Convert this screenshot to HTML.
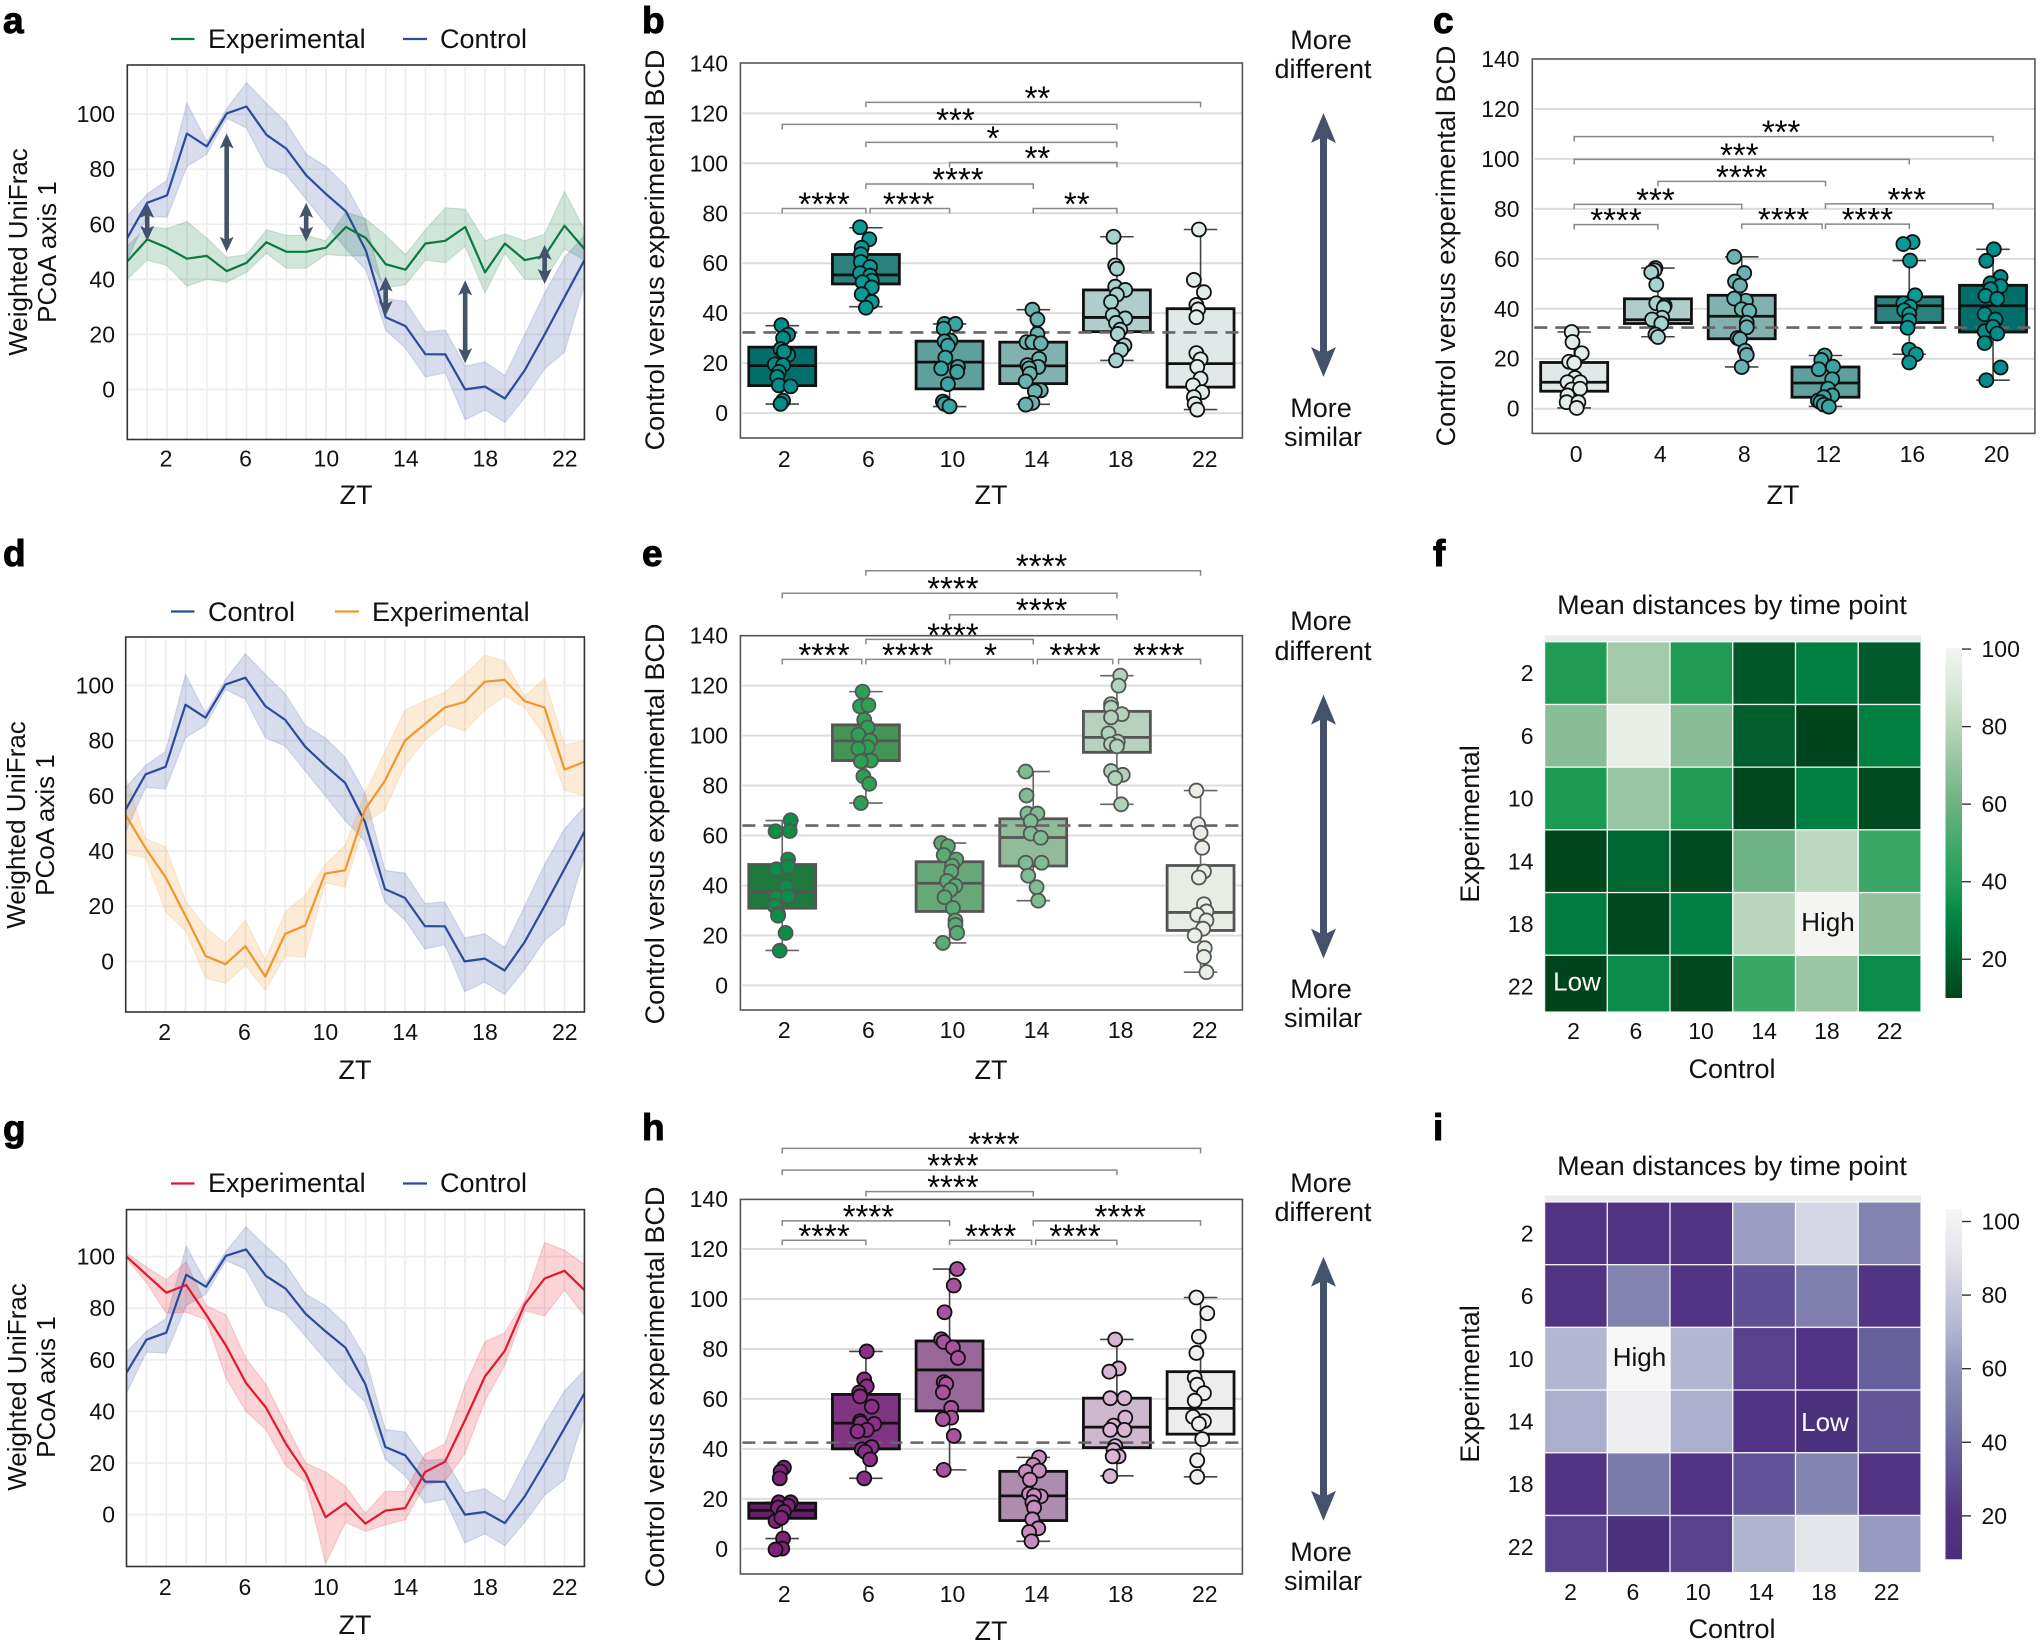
<!DOCTYPE html>
<html lang="en">
<head>
<meta charset="utf-8">
<title>Control versus experimental time-series panels</title>
<style>
html,body{margin:0;padding:0;background:#fff}
svg{display:block}
text{font-family:"Liberation Sans",sans-serif;fill:#111}
.lb{font-size:27px}
.wt{font-size:26px}
.pl{font-size:37px;font-weight:bold;fill:#000;stroke:#000;stroke-width:1}
</style>
</head>
<body>
<svg id="figure" xmlns="http://www.w3.org/2000/svg" width="2040" height="1645" viewBox="0 0 2040 1645">
<rect x="0" y="0" width="2040" height="1645" fill="#fff"/>

<g id="panel-a">
<text class="pl" x="3" y="33">a</text>
<line x1="171" x2="194.5" y1="39" y2="39" stroke="#0b7a3e" stroke-width="2.2"/>
<text class="lb" x="208" y="48">Experimental</text>
<line x1="403" x2="427" y1="39" y2="39" stroke="#2b4b9b" stroke-width="2.2"/>
<text class="lb" x="440" y="48">Control</text>
<text class="wt" text-anchor="middle" transform="translate(27 252) rotate(-90)">Weighted UniFrac</text>
<text class="wt" text-anchor="middle" transform="translate(56 252) rotate(-90)">PCoA axis 1</text>
<text class="lb" text-anchor="middle" x="356" y="504">ZT</text>
</g>

<g id="panel-b">
<text class="pl" x="642" y="33">b</text>
<text class="lb" text-anchor="middle" transform="translate(664 250) rotate(-90)">Control versus experimental BCD</text>
<text class="lb" text-anchor="middle" x="991" y="504">ZT</text>
<text class="lb" text-anchor="middle" x="1321" y="49">More</text>
<text class="lb" text-anchor="middle" x="1323" y="78">different</text>
<text class="lb" text-anchor="middle" x="1321" y="417">More</text>
<text class="lb" text-anchor="middle" x="1323" y="446">similar</text>
</g>

<g id="panel-c">
<text class="pl" x="1433" y="33">c</text>
<text class="lb" text-anchor="middle" transform="translate(1455 246) rotate(-90)">Control versus experimental BCD</text>
<text class="lb" text-anchor="middle" x="1783" y="504">ZT</text>
</g>

<g id="panel-d">
<text class="pl" x="3" y="566">d</text>
<line x1="171" x2="194.5" y1="611.5" y2="611.5" stroke="#2b4b9b" stroke-width="2.2"/>
<text class="lb" x="208" y="621">Control</text>
<line x1="335" x2="359" y1="611.5" y2="611.5" stroke="#f0962a" stroke-width="2.2"/>
<text class="lb" x="372" y="621">Experimental</text>
<text class="wt" text-anchor="middle" transform="translate(25 825) rotate(-90)">Weighted UniFrac</text>
<text class="wt" text-anchor="middle" transform="translate(54 825) rotate(-90)">PCoA axis 1</text>
<text class="lb" text-anchor="middle" x="355" y="1079">ZT</text>
</g>

<g id="panel-e">
<text class="pl" x="642" y="566">e</text>
<text class="lb" text-anchor="middle" transform="translate(664 824) rotate(-90)">Control versus experimental BCD</text>
<text class="lb" text-anchor="middle" x="991" y="1079">ZT</text>
<text class="lb" text-anchor="middle" x="1321" y="630">More</text>
<text class="lb" text-anchor="middle" x="1323" y="660">different</text>
<text class="lb" text-anchor="middle" x="1321" y="998">More</text>
<text class="lb" text-anchor="middle" x="1323" y="1027">similar</text>
</g>

<g id="panel-f">
<text class="pl" x="1433" y="566">f</text>
<text class="lb" text-anchor="middle" x="1732" y="614">Mean distances by time point</text>
<text class="lb" text-anchor="middle" transform="translate(1479 824) rotate(-90)">Experimental</text>
<text class="lb" text-anchor="middle" x="1732" y="1078">Control</text>
</g>

<g id="panel-g">
<text class="pl" x="3" y="1141">g</text>
<line x1="171" x2="194.5" y1="1183.5" y2="1183.5" stroke="#e3182d" stroke-width="2.2"/>
<text class="lb" x="208" y="1192">Experimental</text>
<line x1="403" x2="427" y1="1183.5" y2="1183.5" stroke="#2b4b9b" stroke-width="2.2"/>
<text class="lb" x="440" y="1192">Control</text>
<text class="wt" text-anchor="middle" transform="translate(26 1387) rotate(-90)">Weighted UniFrac</text>
<text class="wt" text-anchor="middle" transform="translate(55 1387) rotate(-90)">PCoA axis 1</text>
<text class="lb" text-anchor="middle" x="355" y="1634">ZT</text>
</g>

<g id="panel-h">
<text class="pl" x="642" y="1140">h</text>
<text class="lb" text-anchor="middle" transform="translate(664 1387) rotate(-90)">Control versus experimental BCD</text>
<text class="lb" text-anchor="middle" x="991" y="1640">ZT</text>
<text class="lb" text-anchor="middle" x="1321" y="1192">More</text>
<text class="lb" text-anchor="middle" x="1323" y="1221">different</text>
<text class="lb" text-anchor="middle" x="1321" y="1561">More</text>
<text class="lb" text-anchor="middle" x="1323" y="1590">similar</text>
</g>

<g id="panel-i">
<text class="pl" x="1433" y="1140">i</text>
<text class="lb" text-anchor="middle" x="1732" y="1175">Mean distances by time point</text>
<text class="lb" text-anchor="middle" transform="translate(1479 1384) rotate(-90)">Experimental</text>
<text class="lb" text-anchor="middle" x="1732" y="1638">Control</text>
</g>
</svg>

<script>
// ---------- line chart data (panels a, d, g) ----------
const hours = [0,1,2,3,4,5,6,7,8,9,10,11,12,13,14,15,16,17,18,19,20,21,22,23];
const lineXTickLabels = [2,6,10,14,18,22];
const lineYTickLabels = [0,20,40,60,80,100];

const controlMean  = [55,67.8,70.5,93,88.3,100.3,102.8,92.5,87.5,77.8,71,64.7,50.5,26.2,23,12.8,12.7,0,1,-3.3,7,20,33.5,47];
const controlUpper = [63,71,76,104,90,102,111.5,104,97,85.5,81,74,61,33,32,21,21.5,8.5,10,5,20,35,48,56];
const controlLower = [47,63,62.5,81,85.5,98.5,95,81,78,69,60,51,43.5,21.5,15,4.5,6,-11,-7.5,-12,-3,7.5,13.5,38];

const aExpMean  = [46.5,54.5,51.5,47.5,48.5,43,46,53.5,50,50,51.5,59,55,45.5,43.5,53,54,59,42.5,53,47,48.5,59.5,51];
const aExpUpper = [52,59,58.5,61,55,48,49,58,56,56,54,64.5,62,56,49,58,66,65.5,54,56.5,54,56.5,72,58];
const aExpLower = [40,47,45,37.5,40,39,42.5,49.5,44,44,49,48.5,48.5,37,38,47,46,52,35,49.5,40,40,51,47];

const dExpMean  = [53,41,30.5,16.5,2,-1,5.5,-5.5,10,13,31.8,33,55,65.5,80,86,92,94,101.3,102,94.3,92,69.5,72.3];
const dExpUpper = [67,44.5,41.5,22,12.5,6.5,15,0.5,18,24,35,42,61,76,91,94.5,97.5,104,111,109,96,102.5,78.5,80];
const dExpLower = [39,37.5,18,11,-6,-8,-1.5,-10.5,2,1.5,28.5,27,50,55,71,80,86,83.5,91,96,92,81.5,62,60];

const gExpMean  = [100,93,86,89,77.5,65.5,51,41.5,27.5,16,-1,4.5,-3.5,1.5,2.5,16.5,20.5,36.5,53.5,63.5,81.5,91.5,94.5,87];
const gExpUpper = [101.5,96,91,98,81,77.5,60.5,50.5,35,20,16.5,11,0.5,9,9,23.5,27.5,50,67,70.5,83,105.5,102.5,97];
const gExpLower = [99,90,78,78.5,75.5,53,40,33,19,12.5,-19,-3,-6.5,-4,-2,11.5,13,23.5,44,58,79,77,87,77];

const aArrowHours = [1,5,9,13,17,21];
const aArrowTop    = [67.8,93,67.8,41,39.6,52.5];
const aArrowBottom = [54,50,53.7,26.7,9.5,38.3];

// ---------- box plot data (panels b, c, e, h) ----------
const boxYTickLabels = [0,20,40,60,80,100,120,140];

const bCategories = [2,6,10,14,18,22];
const bQ1 = [11,51.7,9.7,11.8,32.6,10.4];
const bMedian = [19,55.3,20.4,18.9,38.3,19.8];
const bQ3 = [26.4,63.5,28.8,28.4,49.3,41.8];
const bWhiskerLow = [3.6,42.6,2.6,3.5,21.1,1.4];
const bWhiskerHigh = [35,74.2,35.7,41.4,70.6,73.5];
const bThreshold = 32.3;
const bValues = [
 [35.2,31.4,30,25.6,23.3,24.6,19.5,19.2,16.5,14.5,11.1,10.7,5,3.7],
 [74.4,69.6,66.2,63.6,60.5,58.5,56,55,53,52.4,50.3,47.6,44.5,42.2],
 [35.7,35.7,33.8,29,28.7,27,22.2,18.5,17.9,16.5,11.6,4.6,3.7,2.7],
 [41.4,37.5,31.7,28.4,28.4,27.9,21.7,19.2,18.5,17.9,15.8,12.7,9.1,8.7,4.1,3.4],
 [70.6,59.1,57.8,50.6,49.3,47.4,44.5,39.2,37.9,36.1,33.4,31.7,27.1,25.3,21.1],
 [73.5,53.3,48.4,43.3,41.5,38.4,24,21.5,18.5,13.8,11.1,8.4,6.4,3.7,1.4]
];
const bJitter = [
 [-.01,.07,.01,-.02,.07,.02,-.09,.01,-.04,-.06,-.04,.10,.01,-.02],
 [-.07,.04,-.05,-.06,-.06,.05,-.07,.05,.07,-.04,.07,-.05,.07,0],
 [-.06,.07,-.07,.01,-.06,-.02,-.05,.10,-.1,.09,-.02,-.08,-.06,0],
 [-.01,.05,.05,-.08,-.01,.09,.07,-.07,.06,-.05,-.04,-.09,.09,.02,-.01,-.09],
 [-.04,-.02,0,-.02,.1,0,-.07,-.05,.1,-.01,.04,.01,.09,.05,-.01],
 [-.02,-.08,.04,-.05,-.03,-.05,-.05,0,-.04,0,-.09,.02,-.08,-.07,-.04]
];
const bBracketFrom = [1,0,1,2,1,0,1.05,3];
const bBracketTo   = [5,4,4,4,3,1,2,4];
const bBracketLevel = [124.4,115.6,108.4,100.3,91.7,81.9,81.9,81.9];
const bBracketStars = ["**","***","*","**","****","****","****","**"];
const bBracketStarPos = [3.05,2.07,2.52,3.05,2.10,.5,1.51,3.52];

const cCategories = [0,4,8,12,16,20];
const cQ1 = [7,34.1,28,4.6,34.5,30.7];
const cMedian = [10.6,35.6,37,10.3,41.2,41.2];
const cQ3 = [18.5,44,45.4,16.7,44.8,49.4];
const cWhiskerLow = [.3,28.8,16.7,.9,21.8,11.4];
const cWhiskerHigh = [30.7,56.3,60.8,21.3,59.3,63.8];
const cThreshold = 32.5;
const cValues = [
 [30.7,26.7,22.2,18.8,18.3,12.3,10.6,10.6,7.7,8,5.3,2.6,2.6,.3],
 [56.3,55.4,54.6,49.7,42.2,41.2,40.5,36.4,35.7,34.1,29.7,28.7],
 [60.8,54.3,50.9,49.3,43.2,44.1,39.8,39.1,34.4,32.6,28.3,27.9,23.2,21.5,16.7],
 [21.3,19.5,16.8,15.8,11.8,8,5.3,3.2,4.6,2.6,1.6,.8],
 [66.7,65.9,59.3,45.4,42.2,40.8,39.4,37.8,35.3,32.4,23.6,21.8,18.5],
 [63.8,59.2,52.7,50.2,49.1,47.9,45.2,44,37.8,35.7,31,32.8,30.1,26.3,16.5,11.4]
];
const cJitter = [
 [-.03,-.02,.09,-.06,0,.01,-.08,.07,-.03,.07,-.08,-.09,.05,.03],
 [-.03,-.04,-.08,-.02,-.02,.08,.07,.05,-.07,.04,-.03,0],
 [-.09,.03,-.08,-.02,.05,-.09,0,.09,.06,.06,-.05,-.02,.04,.06,0],
 [-.01,-.05,.09,-.08,.08,.03,.08,-.09,-.02,-.06,-.02,.04],
 [.04,-.07,.01,.07,-.07,.01,-.06,0,0,-.02,0,.08,0],
 [.01,-.08,.09,-.03,.09,-.03,-.09,.05,-.1,.03,-.1,0,.05,-.1,.09,-.08]
];
const cBracketFrom = [0,0,1,0,0,2,3,3];
const cBracketTo   = [5,4,3,2,1,2.96,4,5];
const cBracketLevel = [108.9,99.8,91,81.8,73.7,73.9,73.9,82];
const cBracketStars = ["***","***","****","***","****","****","****","***"];
const cBracketStarPos = [2.47,1.97,2,.97,.5,2.5,3.5,3.97];

const eCategories = [2,6,10,14,18,22];
const eQ1 = [30.9,90,29.6,47.8,93.3,22];
const eMedian = [37.5,97.9,40.9,59.2,99.3,29.2];
const eQ3 = [48.4,104.3,49.5,66.7,109.7,48];
const eWhiskerLow = [14,73,17,33.9,72.5,5.3];
const eWhiskerHigh = [66,117.6,57,85.6,124,78];
const eThreshold = 64;
const eValues = [
 [66.1,61.7,61.8,50.4,46.5,47.5,39.6,35.3,35.6,31.8,28.5,27.9,21,13.9],
 [117.6,111.7,112.2,106.3,103.3,100.4,98,95.4,94.8,90,89.7,83.7,80.7,73],
 [57,55.7,52.2,50.4,47.9,45.6,41.8,39.9,38.2,35.3,31,26,24.2,21,17],
 [85.6,76,68.8,68.8,65.7,60.8,59.1,49.1,49.1,43.9,39.3,33.9],
 [124,120,112.6,111.2,108.6,107.3,100.9,97.6,96.6,95.7,85.8,84.3,83,72.5],
 [78,64.5,61.1,55.1,45.6,43.2,32.5,29.6,28.2,26,22.7,20,14.9,11.4,5.3]
];
const eJitter = [
 [.10,-.08,.09,.07,-.07,.07,.05,-.07,.07,-.09,-.05,-.05,.04,-.03],
 [-.04,-.07,.03,-.02,.02,-.09,.05,.02,-.09,.06,-.06,-.03,.04,-.06],
 [-.1,-.02,-.07,.08,.03,.02,-.03,.07,.01,-.06,.04,.07,.07,.09,-.08],
 [-.09,-.08,-.07,.05,-.03,-.03,.09,-.09,.1,-.06,.04,.06],
 [.04,.02,-.07,-.07,.06,-.07,-.1,.01,-.07,0,-.07,.07,-.02,.05],
 [-.05,-.03,0,.02,.04,-.02,.04,.07,-.04,.07,.03,-.07,.05,.04,.07]
];
const eBracketFrom = [1,0,2,1,0,1,2,3.05,4.02];
const eBracketTo   = [5,4,4,3,.95,1.95,3,3.95,5];
const eBracketLevel = [166,157,148.4,138.5,130.5,130.5,130.5,130.5,130.5];
const eBracketStars = ["****","****","****","****","****","****","*","****","****"];
const eBracketStarPos = [3.10,2.04,3.10,2.04,.5,1.5,2.49,3.5,4.5];

const hCategories = [2,6,10,14,18,22];
const hQ1 = [12.2,40,55.2,11.3,40.5,45.9];
const hMedian = [15.4,50.3,71.6,21.2,48.7,56.2];
const hQ3 = [18.3,61.8,83.2,31,60.3,70.9];
const hWhiskerLow = [4.1,28.2,31.6,3,29.2,28.8];
const hWhiskerHigh = [18.6,79,112,36.6,83.8,100.6];
const hThreshold = 42.5;
const hValues = [
 [32.5,30.9,28.2,18.6,18.6,17.2,16.5,14.8,11.1,12.4,4.1,.1,-.3],
 [79,67.8,65,62.6,61,56.9,51.1,50,50.3,47.6,47,40.7,39.8,38.8,35.8,28.2],
 [112,105.4,94.7,83.9,82.8,80.6,76.4,66.7,66,62.6,56.4,52.5,51.9,45.2,31.6],
 [36.6,33.6,30.9,31.3,27.7,22,21,21.3,18.6,16.5,11.8,8.2,6.7,3],
 [83.8,72.2,70.9,60.3,60.3,52.5,49.3,47.6,47.6,41.1,39.5,37,37,29.1],
 [100.6,94.3,84.9,78.4,68.5,65.7,62.3,59.3,52.8,51.1,50,43.9,35.4,28.8]
];
const hJitter = [
 [.02,-.02,-.03,.1,-.04,.07,-.05,.02,-.08,-.01,.01,0,-.08],
 [.01,-.02,.01,-.08,-.07,.07,-.07,.1,-.06,.01,-.1,.07,-.05,-.01,.05,-.02],
 [.09,.05,-.06,-.1,-.07,.04,.1,-.07,-.04,-.08,.02,.02,-.08,.05,-.07],
 [.07,0,-.09,.07,-.04,-.05,.09,.01,-.01,.01,-.01,.06,-.05,-.02],
 [-.02,.02,-.09,-.08,.09,.1,-.04,-.08,.09,-.02,-.04,.02,-.05,-.08],
 [-.05,.08,-.02,-.05,-.07,-.04,.04,-.07,-.09,.04,-.02,.02,-.04,-.04]
];
const hBracketFrom = [0,0,1,0,0,2,3.03,3];
const hBracketTo   = [5,4,3,2,1,2.98,4,5];
const hBracketLevel = [160.3,151.6,143,131.3,123.5,123.5,123.5,131.3];
const hBracketStars = ["****","****","****","****","****","****","****","****"];
const hBracketStarPos = [2.53,2.04,2.04,1.03,.5,2.49,3.5,4.04];

// ---------- heatmap data (panels f, i) ----------
const heatLabels = [2,6,10,14,18,22];
const colorbarTickLabels = [20,40,60,80,100];
const fValues = [
 [39,74,39,16,29,17],
 [67,95,67,18,10,29],
 [38,72,39,11,29,12],
 [10.5,21,12,60,81,48],
 [28,11,29,80,100,70],
 [10,33,11,48,72,33]
];
const iValues = [
 [19,19,19,63,85,52],
 [20,52,20,31,50,20],
 [71,103,71,25,18,37],
 [68,97,68,20,10,33],
 [20,48,20,32,52,20],
 [25,10,25,70,92,62]
];

// ---------- rendering helpers ----------
const NS = 'http://www.w3.org/2000/svg';
function mk(tag, attrs, parent) {
  const el = document.createElementNS(NS, tag);
  for (const k in attrs) el.setAttribute(k, attrs[k]);
  parent.appendChild(el);
  return el;
}
function linear(d0, d1, r0, r1) {
  return function (v) { return r0 + (v - d0) * (r1 - r0) / (d1 - d0); };
}
function doubleArrow(parent, name, x, y1, y2, headW, headL, shaftW, color) {
  const p = 'M' + x + ' ' + y1 + 'L' + (x + headW / 2) + ' ' + (y1 + headL) + 'L' + (x + shaftW / 2) + ' ' + (y1 + headL * 0.85) +
    'L' + (x + shaftW / 2) + ' ' + (y2 - headL * 0.85) + 'L' + (x + headW / 2) + ' ' + (y2 - headL) + 'L' + x + ' ' + y2 +
    'L' + (x - headW / 2) + ' ' + (y2 - headL) + 'L' + (x - shaftW / 2) + ' ' + (y2 - headL * 0.85) +
    'L' + (x - shaftW / 2) + ' ' + (y1 + headL * 0.85) + 'L' + (x - headW / 2) + ' ' + (y1 + headL) + 'Z';
  const el = mk('path', { d: p, fill: color }, parent);
  
  
}
function seriesPath(xs, ys, sx, sy) {
  return xs.map(function (x, i) { return (i ? 'L' : 'M') + sx(x).toFixed(1) + ' ' + sy(ys[i]).toFixed(1); }).join('');
}
function bandPath(xs, up, lo, sx, sy) {
  let d = seriesPath(xs, up, sx, sy);
  for (let i = xs.length - 1; i >= 0; i--) d += 'L' + sx(xs[i]).toFixed(1) + ' ' + sy(lo[i]).toFixed(1);
  return d + 'Z';
}

// ---------- line charts ----------
function drawLineChart(panelId, box, series, clipId) {
  const g = document.getElementById(panelId);
  const sx = linear(0, 23, box.left, box.right);
  const sy = function (v) { return box.zero - v * box.k; };

  const cp = mk('clipPath', { id: clipId }, g);
  mk('rect', { x: box.left, y: box.top, width: box.right - box.left, height: box.bottom - box.top }, cp);

  hours.forEach(function (h) {
    if (h === 0 || h === 23) return;
    const el = mk('line', { x1: sx(h), x2: sx(h), y1: box.top + 2, y2: box.bottom, stroke: '#ececee', 'stroke-width': 1.6 }, g);
    
    
  });
  lineYTickLabels.forEach(function (v) {
    const el = mk('line', { x1: box.left, x2: box.right, y1: sy(v), y2: sy(v), stroke: '#eeeeee', 'stroke-width': 1.8 }, g);
    
    
    const t = mk('text', { x: box.tickRight, y: sy(v) + 8, 'text-anchor': 'end', 'font-size': 23 }, g);
    t.textContent = v;
    
    
  });
  lineXTickLabels.forEach(function (h) {
    const t = mk('text', { x: sx(h) - 1 + (h > 6 ? 1.3 : 0), y: box.tickBase, 'text-anchor': 'middle', 'font-size': 23 }, g);
    t.textContent = h;
    
    
  });
  const clip = mk('g', { 'clip-path': 'url(#' + clipId + ')' }, g);
  
  
  series.forEach(function (s) {
    const b = mk('path', { d: bandPath(hours, s.upper, s.lower, sx, sy), fill: s.color, 'fill-opacity': 0.19, stroke: s.color, 'stroke-opacity': 0.16, 'stroke-width': 1.2 }, clip);
    
    
  });
  series.forEach(function (s) {
    const l = mk('path', { d: seriesPath(hours, s.mean, sx, sy), fill: 'none', stroke: s.color, 'stroke-width': 2.2, 'stroke-linejoin': 'round' }, clip);
    
    
  });
  const f = mk('rect', { x: box.left, y: box.top, width: box.right - box.left, height: box.bottom - box.top, fill: 'none', stroke: '#333', 'stroke-width': 1.6 }, g);
  
  
  return { g: g, sx: sx, sy: sy };
}

const ctlColor = '#2b4b9b';
const panelA = drawLineChart('panel-a',
  { left: 127.3, right: 584.4, top: 65, bottom: 439.5, zero: 389.4, k: 2.752, tickRight: 115, tickBase: 466.5 },
  [{ name: 'control', mean: controlMean, upper: controlUpper, lower: controlLower, color: ctlColor },
   { name: 'experimental', mean: aExpMean, upper: aExpUpper, lower: aExpLower, color: '#0b7a3e' }], 'clip-a');
aArrowHours.forEach(function (h, i) {
  doubleArrow(panelA.g, 'difference-arrow-zt' + h, panelA.sx(h), panelA.sy(aArrowTop[i]), panelA.sy(aArrowBottom[i]), 14, 15, 4.6, '#44536b');
});
drawLineChart('panel-d',
  { left: 125.7, right: 584.4, top: 637, bottom: 1012, zero: 961.4, k: 2.76, tickRight: 114, tickBase: 1040 },
  [{ name: 'control', mean: controlMean, upper: controlUpper, lower: controlLower, color: ctlColor },
   { name: 'experimental', mean: dExpMean, upper: dExpUpper, lower: dExpLower, color: '#f0962a' }], 'clip-d');
drawLineChart('panel-g',
  { left: 126.5, right: 584.4, top: 1209.6, bottom: 1566.5, zero: 1514.6, k: 2.58, tickRight: 115, tickBase: 1595 },
  [{ name: 'control', mean: controlMean, upper: controlUpper, lower: controlLower, color: ctlColor },
   { name: 'experimental', mean: gExpMean, upper: gExpUpper, lower: gExpLower, color: '#e3182d' }], 'clip-g');

// ---------- box plots ----------
function drawBoxChart(panelId, box, d, style) {
  const g = document.getElementById(panelId);
  const step = (box.right - box.left) / 6;
  const cx = function (i) { return box.left + step * (i + 0.5); };
  const sy = function (v) { return box.zero - v * 2.498; };
  const bw = step * 0.8;

  boxYTickLabels.forEach(function (v) {
    if (v !== 140) {
      const el = mk('line', { x1: box.left + 2, x2: box.right, y1: sy(v), y2: sy(v), stroke: '#dcdcdc', 'stroke-width': 2 }, g);
      
      
    }
    const t = mk('text', { x: box.tickRight, y: sy(v) + 8, 'text-anchor': 'end', 'font-size': 23 }, g);
    t.textContent = v;
    
    
  });
  d.categories.forEach(function (c, i) {
    const x = cx(i);
    const t = mk('text', { x: x + 2 + box.labelShift * i, y: box.tickBase, 'text-anchor': 'middle', 'font-size': 23 }, g);
    t.textContent = c;
    
    

    const w = mk('line', { x1: x, x2: x, y1: sy(d.high[i]), y2: sy(d.low[i]), stroke: style.whisker, 'stroke-width': 1.6 }, g);
    
    
    [d.low[i], d.high[i]].forEach(function (v) {
      const cap = mk('line', { x1: x - bw / 4, x2: x + bw / 4, y1: sy(v), y2: sy(v), stroke: style.whisker, 'stroke-width': 1.6 }, g);
      
      
    });
    const r = mk('rect', { x: x - bw / 2, y: sy(d.q3[i]), width: bw, height: sy(d.q1[i]) - sy(d.q3[i]), fill: style.fills[i], stroke: style.edge, 'stroke-width': 2.8 }, g);
    
    
    const m = mk('line', { x1: x - bw / 2, x2: x + bw / 2, y1: sy(d.median[i]), y2: sy(d.median[i]), stroke: style.edge, 'stroke-width': 2.8 }, g);
    
    
  });
  const dash = mk('line', { x1: box.left + 2, x2: box.right, y1: sy(d.threshold), y2: sy(d.threshold), stroke: '#666', 'stroke-width': 2.6, 'stroke-dasharray': '13 8' }, g);
  
  
  d.categories.forEach(function (c, i) {
    d.values[i].forEach(function (v, j) {
      const p = mk('circle', { cx: cx(i) + d.jitter[i][j] * step, cy: sy(v), r: 7, fill: style.dots[i], stroke: style.edge, 'stroke-width': 1.8 }, g);
      
      
    });
  });
  const f = mk('rect', { x: box.left, y: box.top, width: box.right - box.left, height: box.bottom - box.top, fill: 'none', stroke: '#555', 'stroke-width': 1.6 }, g);
  
  
  d.bracketFrom.forEach(function (a, i) {
    const y = sy(d.bracketLevel[i]);
    const pth = 'M' + cx(a) + ' ' + (y + 5) + 'V' + y + 'H' + cx(d.bracketTo[i]) + 'V' + (y + 5);
    const b = mk('path', { d: pth, fill: 'none', stroke: '#888', 'stroke-width': 1.5 }, g);
    
    
    const s = mk('text', { x: cx(d.bracketStarPos[i]), y: y - 11 + 18, 'text-anchor': 'middle', 'font-size': 33, style: 'fill:#000' }, g);
    s.textContent = d.bracketStars[i];
    
    
  });
  if (box.arrowTop) {
    doubleArrow(g, 'similarity-direction-arrow', 1323.5, box.arrowTop, box.arrowBottom, 25, 30, 7, '#44536b');
  }
}

drawBoxChart('panel-b',
  { left: 740.4, right: 1242.4, top: 63, bottom: 438, zero: 413.1, tickRight: 728, tickBase: 467, labelShift: .45, arrowTop: 113, arrowBottom: 377 },
  { categories: bCategories, q1: bQ1, median: bMedian, q3: bQ3, low: bWhiskerLow, high: bWhiskerHigh, threshold: bThreshold, values: bValues, jitter: bJitter,
    bracketFrom: bBracketFrom, bracketTo: bBracketTo, bracketLevel: bBracketLevel, bracketStars: bBracketStars, bracketStarPos: bBracketStarPos },
  { fills: ['#006f6c','#2a827f','#5fa09d','#82b2b0','#aecdcb','#e0e9e8'], dots: ['#008c88','#0a9a96','#3aa5a2','#6bb3b1','#a6d2d0','#e2ecea'], edge: '#111', whisker: '#444' });
drawBoxChart('panel-c',
  { left: 1532.3, right: 2034.9, top: 59, bottom: 433.4, zero: 408.7, tickRight: 1519.6, tickBase: 462, labelShift: .3 },
  { categories: cCategories, q1: cQ1, median: cMedian, q3: cQ3, low: cWhiskerLow, high: cWhiskerHigh, threshold: cThreshold, values: cValues, jitter: cJitter,
    bracketFrom: cBracketFrom, bracketTo: cBracketTo, bracketLevel: cBracketLevel, bracketStars: cBracketStars, bracketStarPos: cBracketStarPos },
  { fills: ['#e0e9e8','#aecdcb','#82b2b0','#5fa09d','#2a827f','#006f6c'], dots: ['#e2ecea','#a6d2d0','#6bb3b1','#3aa5a2','#0a9a96','#008c88'], edge: '#111', whisker: '#444' });
drawBoxChart('panel-e',
  { left: 740.4, right: 1242.4, top: 635.7, bottom: 1010, zero: 985.4, tickRight: 728, tickBase: 1038, labelShift: .45, arrowTop: 694.6, arrowBottom: 958.6 },
  { categories: eCategories, q1: eQ1, median: eMedian, q3: eQ3, low: eWhiskerLow, high: eWhiskerHigh, threshold: eThreshold, values: eValues, jitter: eJitter,
    bracketFrom: eBracketFrom, bracketTo: eBracketTo, bracketLevel: eBracketLevel, bracketStars: eBracketStars, bracketStarPos: eBracketStarPos },
  { fills: ['#1d7a3c','#459455','#67a877','#92bb99','#b6d1bd','#e7ece5'], dots: ['#0b8f48','#2ea055','#5aab75','#7ebd93','#b0d3bb','#e9efe7'], edge: '#555', whisker: '#666' });
drawBoxChart('panel-h',
  { left: 740.4, right: 1242.4, top: 1199.4, bottom: 1574, zero: 1548.8, tickRight: 728, tickBase: 1602, labelShift: .45, arrowTop: 1256.7, arrowBottom: 1520.8 },
  { categories: hCategories, q1: hQ1, median: hMedian, q3: hQ3, low: hWhiskerLow, high: hWhiskerHigh, threshold: hThreshold, values: hValues, jitter: hJitter,
    bracketFrom: hBracketFrom, bracketTo: hBracketTo, bracketLevel: hBracketLevel, bracketStars: hBracketStars, bracketStarPos: hBracketStarPos },
  { fills: ['#651e68','#7f3581','#986699','#ae8cb0','#ceb8cf','#ededed'], dots: ['#7c2378','#8c2f88','#a9539d','#c78cbe','#d9b5d3','#efefef'], edge: '#111', whisker: '#444' });

// ---------- heatmaps ----------
function hexToRgb(h) {
  return [parseInt(h.slice(1, 3), 16), parseInt(h.slice(3, 5), 16), parseInt(h.slice(5, 7), 16)];
}
function makeColormap(levels, colors) {
  return function (v) {
    if (v <= levels[0]) return colors[0];
    for (let i = 1; i < levels.length; i++) {
      if (v <= levels[i]) {
        const t = (v - levels[i - 1]) / (levels[i] - levels[i - 1]);
        const a = hexToRgb(colors[i - 1]), b = hexToRgb(colors[i]);
        return 'rgb(' + a.map(function (c, k) { return Math.round(c + (b[k] - c) * t); }).join(',') + ')';
      }
    }
    return colors[colors.length - 1];
  };
}
const greensMap = makeColormap([10,20,30,38,48,60,70,80,90,100],
  ['#00441b','#006330','#008242','#1c9a54','#3ba766','#6db283','#93c29d','#b9d6bc','#dbe8da','#f4f4f2']);
const purplesMap = makeColormap([8,20,30,40,50,60,70,80,90,103],
  ['#47307c','#523485','#5e4e94','#6c66a2','#7f7fad','#9294bb','#b1b4d0','#c8c9dc','#e2e2ea','#f6f6f6']);

function drawHeatmap(panelId, box, values, cmap, gradId) {
  const g = document.getElementById(panelId);
  const cw = (box.right - box.left) / 6;
  const ch = 62.7;
  const band = mk('rect', { x: box.left, y: box.top - 6.4, width: box.right - box.left, height: 6.4, fill: '#e9ebec' }, g);
  
  
  values.forEach(function (row, r) {
    row.forEach(function (v, c) {
      const top = box.top + r * ch;
      const cell = mk('rect', { x: box.left + c * cw, y: top, width: cw, height: Math.min(ch, box.bottom - top), fill: cmap(v), stroke: '#fff', 'stroke-width': 1.3, 'stroke-opacity': 0.85 }, g);
      
      
    });
  });
  heatLabels.forEach(function (lab, i) {
    const ty = mk('text', { x: 1533.5, y: box.top + (i + 0.5) * ch + 8, 'text-anchor': 'end', 'font-size': 23 }, g);
    ty.textContent = lab;
    
    
    const tx = mk('text', { x: box.left + (i + 0.5) * cw + box.xLabelShift[i], y: box.tickBase, 'text-anchor': 'middle', 'font-size': 23 }, g);
    tx.textContent = lab;
    
    
  });
  // colour bar
  const defs = mk('defs', {}, g);
  const grad = mk('linearGradient', { id: gradId, x1: 0, x2: 0, y1: 0, y2: 1 }, defs);
  const steps = 24;
  for (let i = 0; i <= steps; i++) {
    mk('stop', { offset: i / steps, 'stop-color': cmap(box.cbHigh + (box.cbLow - box.cbHigh) * i / steps) }, grad);
  }
  const bar = mk('rect', { x: 1945.5, y: box.cbTop, width: 16.5, height: box.cbBottom - box.cbTop, fill: 'url(#' + gradId + ')' }, g);
  
  
  const cy = linear(box.cbLow, box.cbHigh, box.cbBottom, box.cbTop);
  colorbarTickLabels.forEach(function (v) {
    const m = mk('line', { x1: 1962, x2: 1971, y1: cy(v), y2: cy(v), stroke: '#333', 'stroke-width': 1.4 }, g);
    
    
    const t = mk('text', { x: 1981.5, y: cy(v) + 8, 'font-size': 23 }, g);
    t.textContent = v;
    
    
  });
  const low = mk('text', { x: box.lowX, y: box.lowY, 'text-anchor': 'middle', 'font-size': 26, style: 'fill:#fff' }, g);
  low.textContent = 'Low';
  
  
  const high = mk('text', { x: box.highX, y: box.highY, 'text-anchor': 'middle', 'font-size': 26 }, g);
  high.textContent = 'High';
  
  
}
drawHeatmap('panel-f',
  { left: 1544.6, right: 1921, top: 641.8, bottom: 1012, tickBase: 1039, xLabelShift: [-2.4,-2.8,-.4,0,0,0],
    cbTop: 647.9, cbBottom: 998, cbHigh: 100.3, cbLow: 10, lowX: 1577, lowY: 990.7, highX: 1828, highY: 931 },
  fValues, greensMap, 'grad-f');
drawHeatmap('panel-i',
  { left: 1544.6, right: 1921, top: 1202, bottom: 1572.6, tickBase: 1600, xLabelShift: [-5.4,-5.8,-3.4,-3,-3,-3],
    cbTop: 1209, cbBottom: 1559.3, cbHigh: 103.4, cbLow: 8.2, lowX: 1825, lowY: 1431, highX: 1639.5, highY: 1366 },
  iValues, purplesMap, 'grad-i');
</script>
</body>
</html>
